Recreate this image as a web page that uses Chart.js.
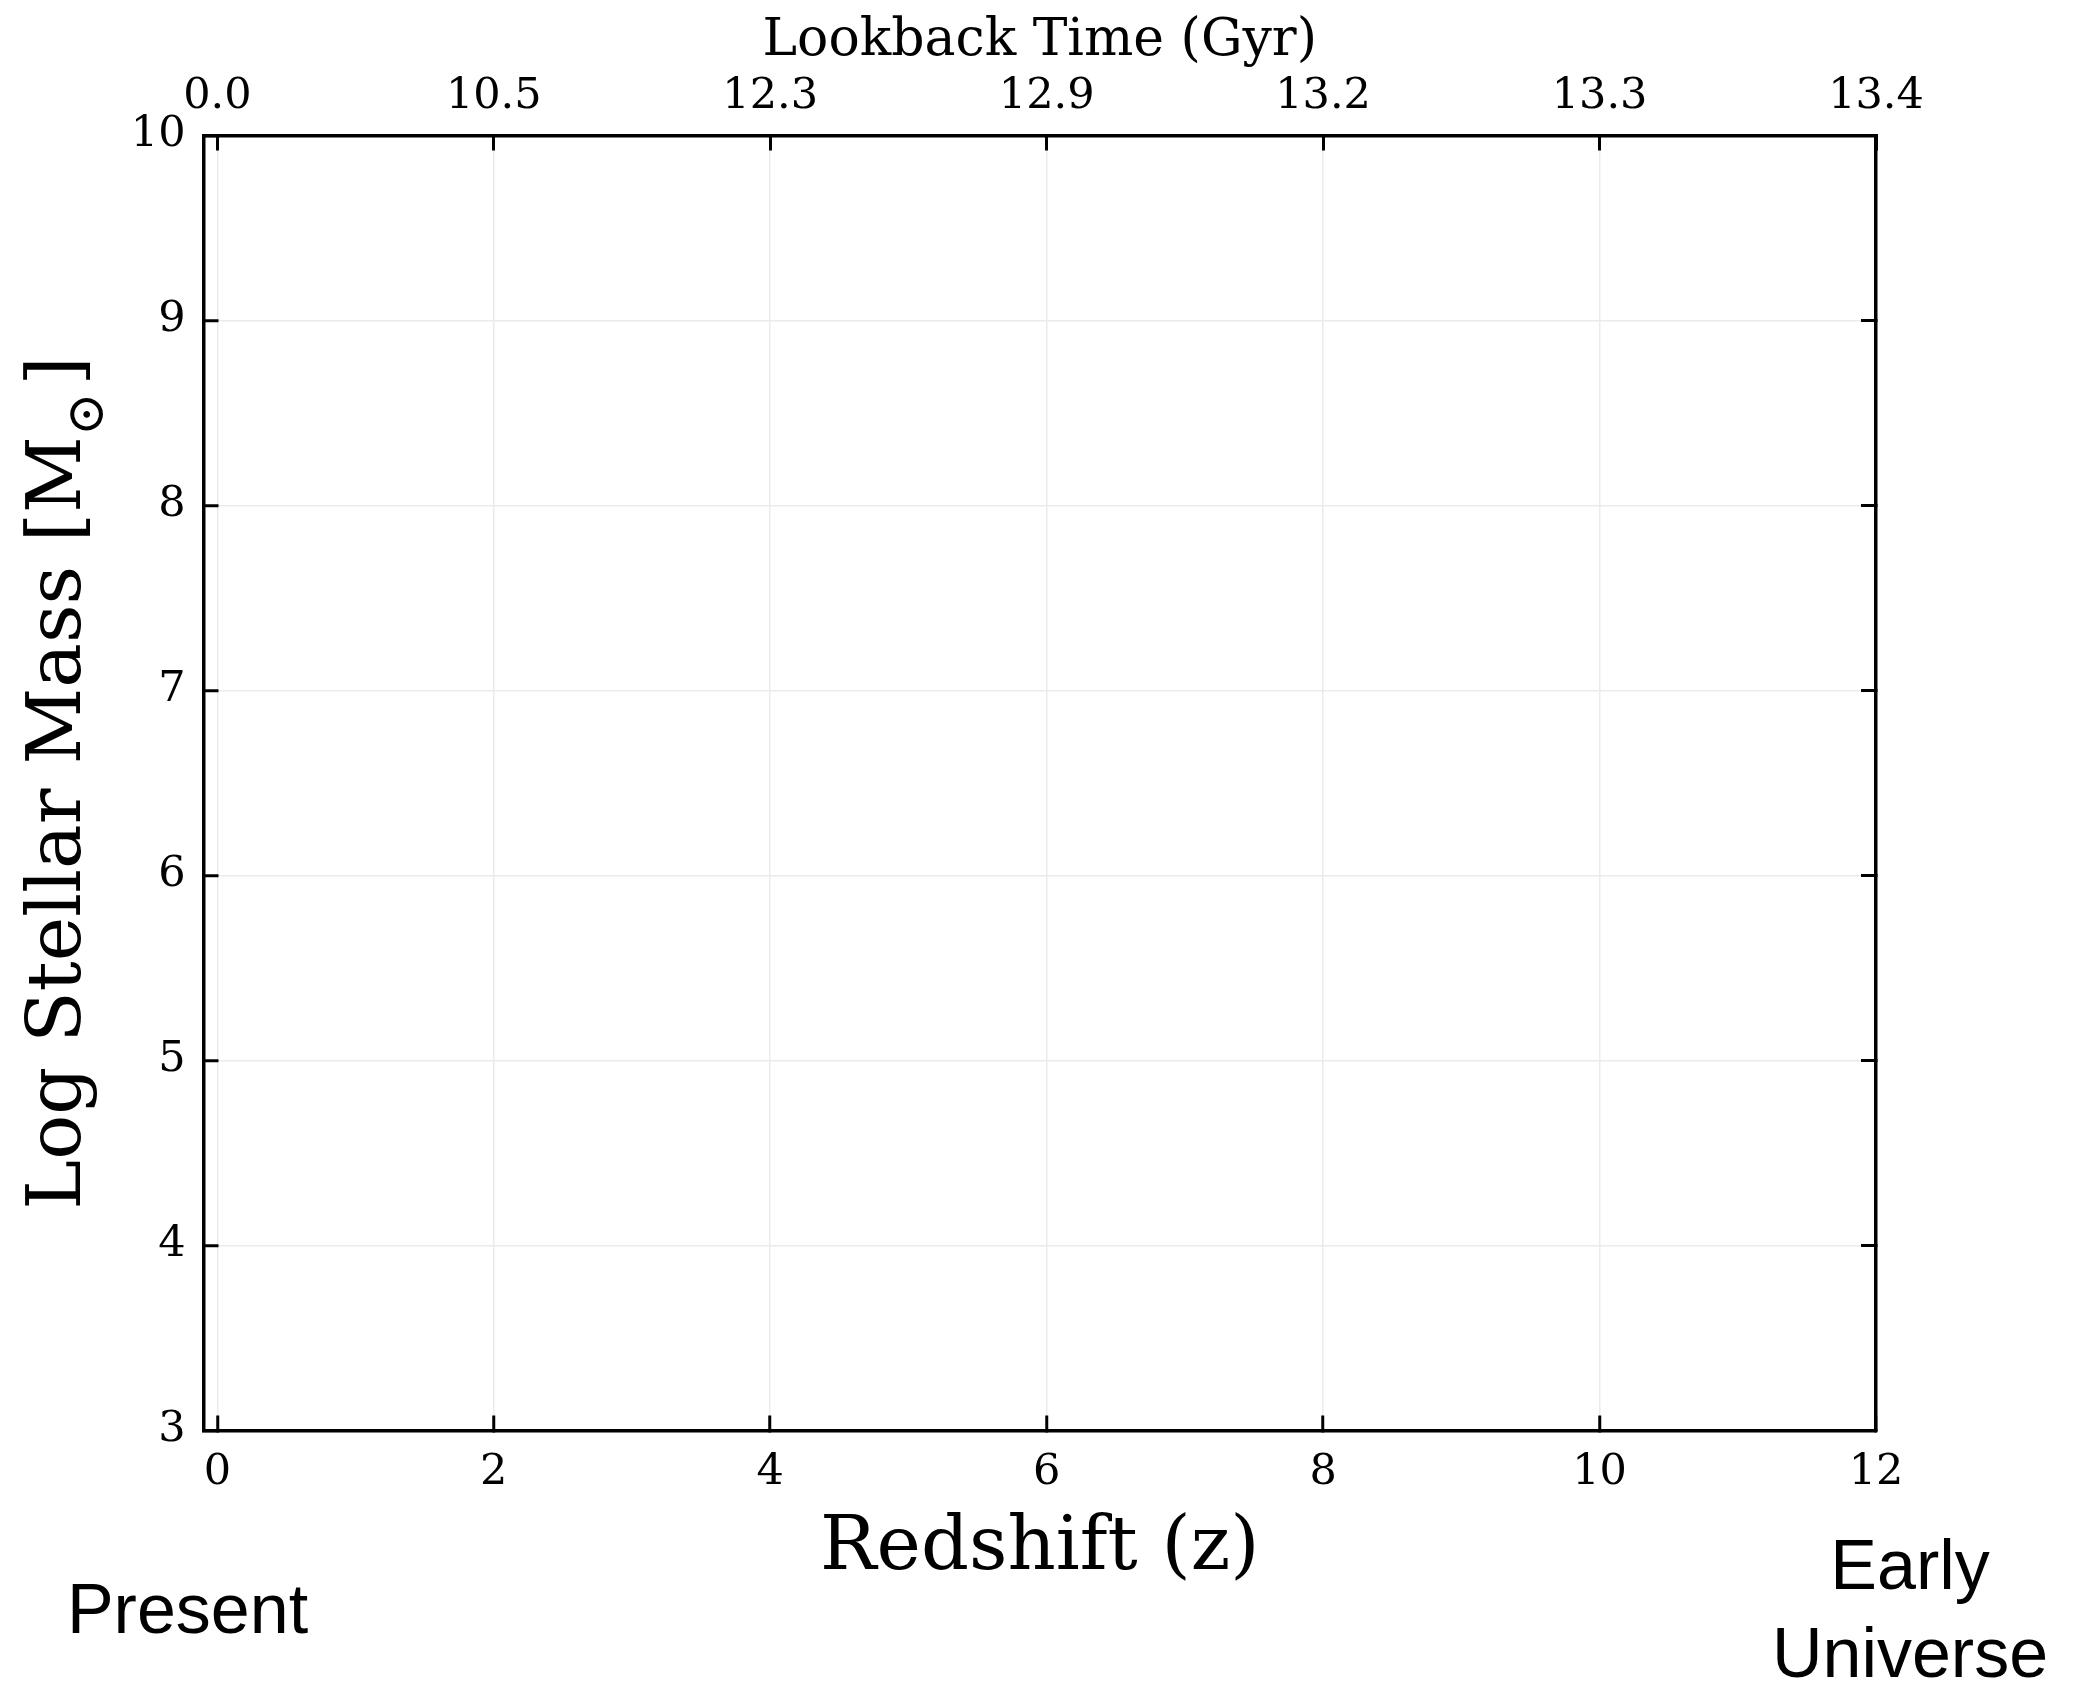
<!DOCTYPE html>
<html>
<head>
<meta charset="utf-8">
<script src="https://cdn.jsdelivr.net/npm/chart.js@4.4.1/dist/chart.umd.min.js"></script>
<style>
  html, body { margin: 0; padding: 0; background: #ffffff; }
  canvas { display: block; }
</style>
</head>
<body>
<canvas id="chart" width="2074" height="1684"></canvas>
<script>
// ---- data ----
const redshiftTicks = [0, 2, 4, 6, 8, 10, 12];
const lookbackLabels = ['0.0', '10.5', '12.3', '12.9', '13.2', '13.3', '13.4'];
const massTicks = [3, 4, 5, 6, 7, 8, 9, 10];
const redshiftRange = [-0.1, 12];
const massRange = [3, 10];
const xTitle = 'Redshift (z)';
const topTitle = 'Lookback Time (Gyr)';
const yTitleParts = ['Log Stellar Mass [M', '\u2299', ']'];
const leftNote = ['Present'];
const rightNote = ['Early', 'Universe'];

// ---- styling ----
const SERIF = "'DejaVu Serif', serif";
const SANS = "'Liberation Sans', Arial, Helvetica, sans-serif";
const tickFont = { family: SERIF, size: 43 };
const GRID = '#ebebeb';

function setTicks(values) {
  return function (scale) { scale.ticks = values.map(v => ({ value: v })); };
}

const yTitlePlugin = {
  id: 'yTitle',
  afterDraw(chart) {
    const ctx = chart.ctx;
    const area = chart.chartArea;
    const big = 75, small = 52;
    ctx.save();
    ctx.fillStyle = '#000';
    ctx.translate(80, (area.top + area.bottom) / 2);
    ctx.rotate(-Math.PI / 2);
    ctx.font = big + 'px ' + SERIF;
    const w1 = ctx.measureText(yTitleParts[0]).width;
    const w3 = ctx.measureText(yTitleParts[2]).width;
    ctx.font = small + 'px ' + SERIF;
    const w2 = ctx.measureText(yTitleParts[1]).width;
    const gap = 7;
    const total = w1 + w2 + gap + w3;
    let x = -total / 2;
    ctx.textAlign = 'left';
    ctx.textBaseline = 'alphabetic';
    ctx.font = big + 'px ' + SERIF;
    ctx.fillText(yTitleParts[0], x, 0);
    x += w1;
    ctx.font = small + 'px ' + SERIF;
    ctx.textBaseline = 'middle';
    ctx.fillText(yTitleParts[1], x, 9);
    x += w2 + gap;
    ctx.textBaseline = 'alphabetic';
    ctx.font = big + 'px ' + SERIF;
    ctx.fillText(yTitleParts[2], x, 0);
    ctx.restore();
  }
};

const notesPlugin = {
  id: 'notes',
  afterDraw(chart) {
    const ctx = chart.ctx;
    ctx.save();
    ctx.fillStyle = '#000';
    ctx.font = '70px ' + SANS;
    ctx.textAlign = 'center';
    ctx.textBaseline = 'alphabetic';
    leftNote.forEach((t, i) => ctx.fillText(t, 187.5, 1633 + i * 88));
    rightNote.forEach((t, i) => ctx.fillText(t, 1910, 1589 + i * 88));
    ctx.restore();
  }
};

const ctx = document.getElementById('chart').getContext('2d');
new Chart(ctx, {
  type: 'scatter',
  data: { datasets: [] },
  plugins: [yTitlePlugin, notesPlugin],
  options: {
    responsive: false,
    animation: false,
    devicePixelRatio: 1,
    layout: { padding: 0 },
    plugins: { legend: { display: false }, tooltip: { enabled: false } },
    scales: {
      x: {
        type: 'linear', position: 'bottom',
        min: redshiftRange[0], max: redshiftRange[1],
        afterBuildTicks: setTicks(redshiftTicks),
        afterFit: s => { s.height = 253.5; },
        grid: { display: true, drawOnChartArea: true, color: GRID, lineWidth: 1.5,
                drawTicks: true, tickLength: -15, tickColor: '#000', tickWidth: 3 },
        border: { display: true, color: '#000', width: 3.5, z: 1 },
        ticks: { font: tickFont, color: '#000', padding: 31.8, autoSkip: false,
                 maxRotation: 0, minRotation: 0, callback: v => String(v) },
        title: { display: true, text: xTitle, color: '#000',
                 font: { family: SERIF, size: 75 }, padding: { top: 0, bottom: 89 } }
      },
      x2: {
        type: 'linear', position: 'top',
        min: redshiftRange[0], max: redshiftRange[1],
        afterBuildTicks: setTicks(redshiftTicks),
        afterFit: s => { s.height = 135.5; },
        grid: { display: true, drawOnChartArea: false, color: GRID,
                drawTicks: true, tickLength: -15, tickColor: '#000', tickWidth: 3 },
        border: { display: true, color: '#000', width: 3.5, z: 1 },
        ticks: { font: tickFont, color: '#000', padding: 28.3, autoSkip: false,
                 maxRotation: 0, minRotation: 0,
                 callback: (v, i) => lookbackLabels[i] },
        title: { display: true, text: topTitle, color: '#000',
                 font: { family: SERIF, size: 52 }, padding: { top: 9.8, bottom: 0 } }
      },
      y: {
        type: 'linear', position: 'left',
        min: massRange[0], max: massRange[1],
        afterBuildTicks: setTicks(massTicks),
        afterFit: s => { s.width = 203.5; },
        grid: { display: true, drawOnChartArea: true, color: GRID, lineWidth: 1.5,
                drawTicks: true, tickLength: -15, tickColor: '#000', tickWidth: 3 },
        border: { display: true, color: '#000', width: 3.5, z: 1 },
        ticks: { font: tickFont, color: '#000', padding: 33, autoSkip: false,
                 labelOffset: -1, callback: v => String(v) },
        title: { display: false }
      },
      y2: {
        type: 'linear', position: 'right',
        min: massRange[0], max: massRange[1],
        afterBuildTicks: setTicks(massTicks),
        afterFit: s => { s.width = 198; },
        grid: { display: true, drawOnChartArea: false, color: GRID,
                drawTicks: true, tickLength: -15, tickColor: '#000', tickWidth: 3 },
        border: { display: true, color: '#000', width: 3.5, z: 1 },
        ticks: { display: false },
        title: { display: false }
      }
    }
  }
});
</script>
</body>
</html>
